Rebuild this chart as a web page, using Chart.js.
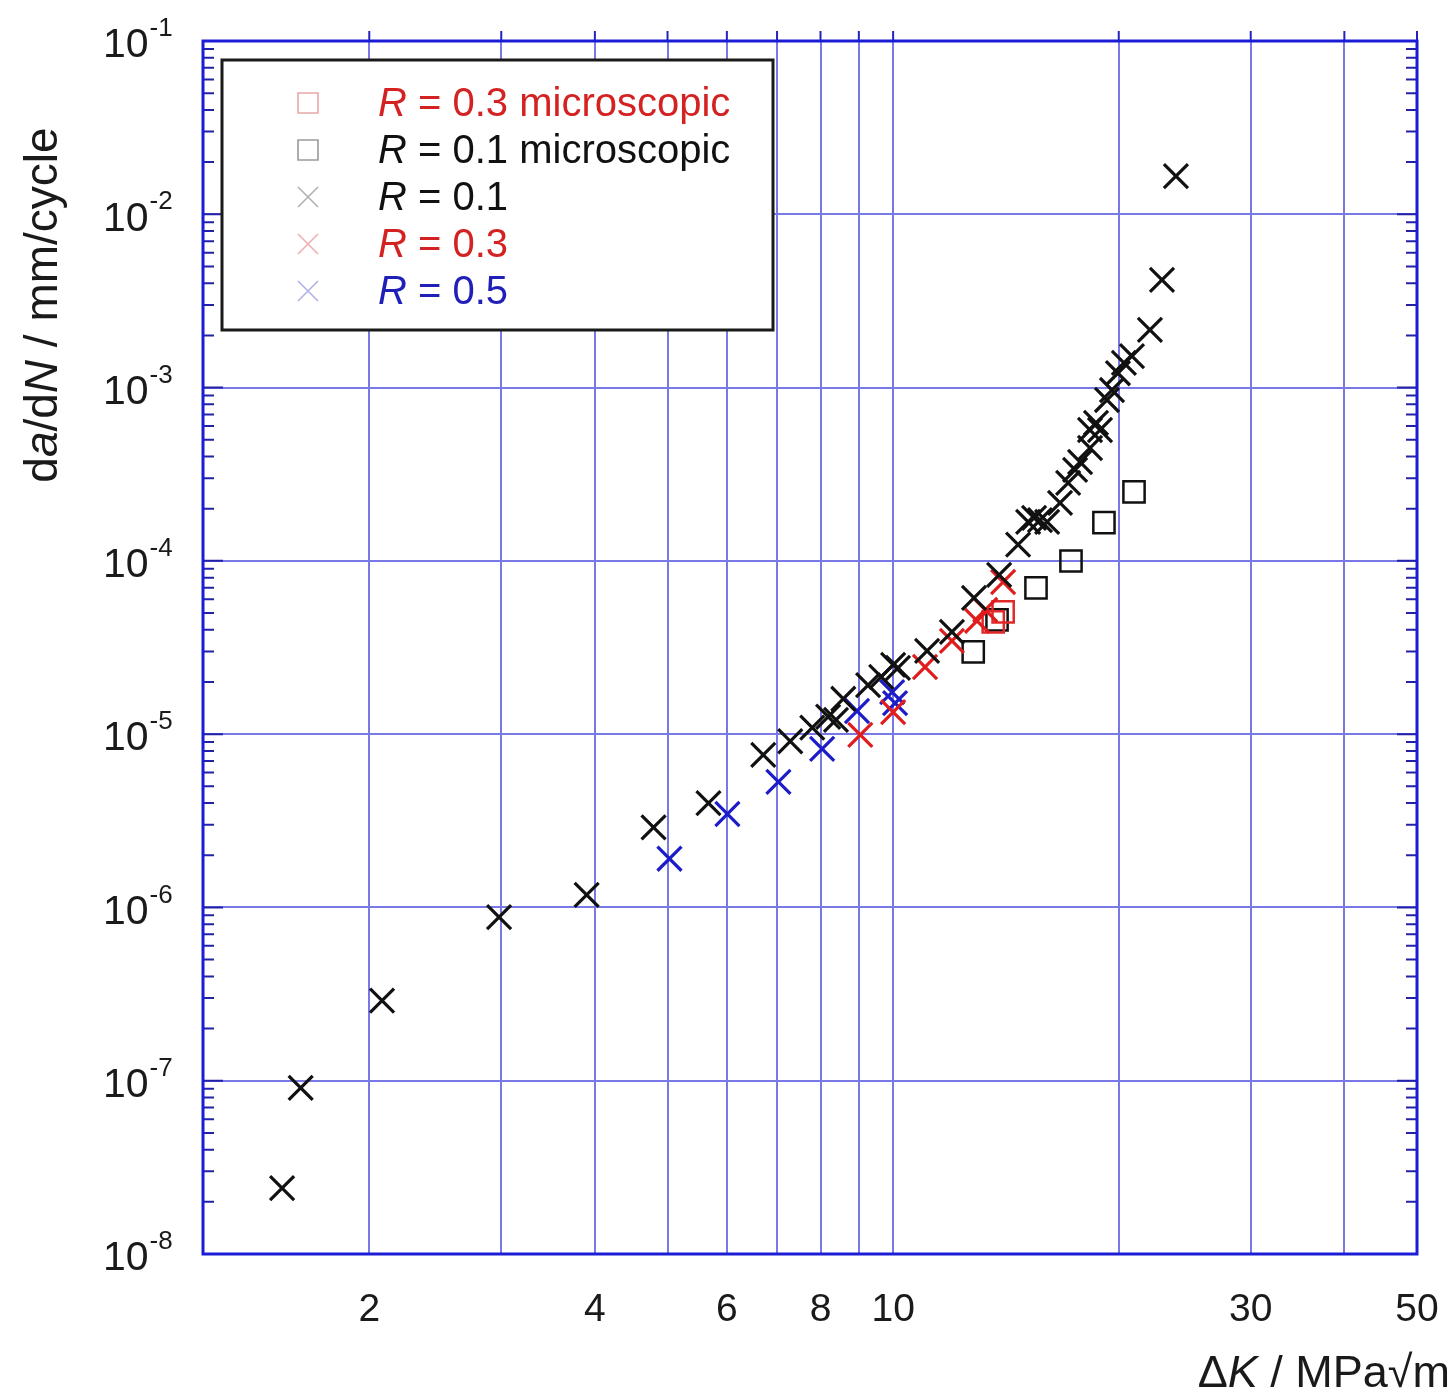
<!DOCTYPE html>
<html>
<head>
<meta charset="utf-8">
<script src="https://cdn.jsdelivr.net/npm/chart.js@4"></script>
<style>
    html, body { margin: 0; padding: 0; background: #fff; }
</style>
</head>
<body>
<canvas id="myChart" width="1455" height="1397"></canvas>
<script>
// Delta K (MPa sqrt m) and da/dN (mm/cycle)
const r01K = [1.53, 1.62, 2.08, 2.98, 3.90, 4.79, 5.67, 6.71, 7.29, 7.80, 8.19, 8.39, 8.58, 9.26, 9.64, 10.0, 10.15, 11.1, 11.98, 12.82, 13.85, 14.68, 15.14, 15.42, 15.7, 16.05, 16.7, 17.12, 17.49, 17.76, 18.31, 18.31, 18.88, 18.65, 19.29, 19.59, 19.95, 20.32, 20.83, 22.01, 22.84, 23.84];
const r01Rate = [2.4e-8, 9.1e-8, 2.9e-7, 8.8e-7, 1.18e-6, 2.9e-6, 4.0e-6, 7.6e-6, 9.1e-6, 1.09e-5, 1.26e-5, 1.21e-5, 1.6e-5, 1.92e-5, 2.14e-5, 2.51e-5, 2.41e-5, 3.02e-5, 3.89e-5, 6.11e-5, 8.29e-5, 1.24e-4, 1.68e-4, 1.77e-4, 1.72e-4, 1.68e-4, 2.16e-4, 2.82e-4, 3.35e-4, 3.72e-4, 4.48e-4, 5.69e-4, 5.69e-4, 6.25e-4, 8.48e-4, 9.68e-4, 1.21e-3, 1.39e-3, 1.52e-3, 2.15e-3, 4.18e-3, 1.66e-2];

const r03K = [9.04, 10.0, 11.03, 11.98, 12.94, 13.27, 14.02];
const r03Rate = [9.9e-6, 1.34e-5, 2.44e-5, 3.45e-5, 4.5e-5, 5.21e-5, 7.55e-5];

const r05K = [5.03, 6.01, 7.03, 8.04, 8.95, 9.97, 10.06];
const r05Rate = [1.91e-6, 3.46e-6, 5.3e-6, 8.22e-6, 1.36e-5, 1.75e-5, 1.51e-5];

const micro01K = [12.79, 13.76, 15.51, 17.27, 19.11, 20.96];
const micro01Rate = [2.98e-5, 4.56e-5, 6.98e-5, 9.98e-5, 1.66e-4, 2.5e-4];

const micro03K = [13.6, 14.02];
const micro03Rate = [4.44e-5, 5.07e-5];

// axis ticks
const xGrid = [2, 3, 4, 5, 6, 7, 8, 9, 10, 20, 30, 40, 50];
const xLabels = [2, 4, 6, 8, 10, 30, 50];
const yExponents = [-8, -7, -6, -5, -4, -3, -2, -1];

// legend entries, top to bottom
const legendText = ['R = 0.3 microscopic', 'R = 0.1 microscopic', 'R = 0.1', 'R = 0.3', 'R = 0.5'];

const FONT = '"Liberation Sans", Arial, sans-serif';
const pts = (xs, ys) => xs.map((x, i) => ({ x: x, y: ys[i] }));

const legendItems = [
    { style: 'rect', mark: '#e8a8a8', text: '#d42222' },
    { style: 'rect', mark: '#9a9a9a', text: '#111' },
    { style: 'cross', mark: '#b0b0b0', text: '#111' },
    { style: 'cross', mark: '#f0b0b0', text: '#d42222' },
    { style: 'cross', mark: '#b0b0ea', text: '#2020b8' }
];

function drawRich(ctx, parts, x, y, size) {
    // parts: [text, italic]
    let cx = x;
    parts.forEach(([t, it]) => {
        ctx.font = (it ? 'italic ' : '') + size + 'px ' + FONT;
        ctx.fillText(t, cx, y);
        cx += ctx.measureText(t).width;
    });
    return cx - x;
}
function richWidth(ctx, parts, size) {
    let w = 0;
    parts.forEach(([t, it]) => {
        ctx.font = (it ? 'italic ' : '') + size + 'px ' + FONT;
        w += ctx.measureText(t).width;
    });
    return w;
}

const decorations = {
    id: 'decorations',
    afterDraw(chart) {
        const ctx = chart.ctx;
        const a = chart.chartArea;
        const xs = chart.scales.x, ys = chart.scales.y;
        ctx.save();

        // minor / major ticks on the y axis, both sides
        ctx.strokeStyle = '#2222a8';
        ctx.lineWidth = 2;
        for (let e = -8; e <= -1; e++) {
            for (let m = 1; m <= 9; m++) {
                const v = m * Math.pow(10, e);
                if (v > 0.1 * 1.0001) continue;
                const y = ys.getPixelForValue(v);
                const len = m === 1 ? 20 : 11;
                ctx.beginPath();
                ctx.moveTo(a.left, y); ctx.lineTo(a.left + len, y);
                ctx.moveTo(a.right - len, y); ctx.lineTo(a.right, y);
                ctx.stroke();
            }
        }
        // little outward ticks on top edge
        ctx.strokeStyle = '#2222c0';
        xGrid.forEach(v => {
            const x = xs.getPixelForValue(v);
            ctx.beginPath(); ctx.moveTo(x, a.top - 10); ctx.lineTo(x, a.top); ctx.stroke();
        });

        // frame
        ctx.strokeStyle = '#1c1cd6';
        ctx.lineWidth = 3;
        ctx.strokeRect(a.left, a.top, a.right - a.left, a.bottom - a.top);

        // x tick labels
        ctx.fillStyle = '#1a1a1a';
        ctx.textAlign = 'center';
        ctx.textBaseline = 'middle';
        ctx.font = '39px ' + FONT;
        xLabels.forEach(v => {
            ctx.fillText(String(v), xs.getPixelForValue(v), 1310);
        });

        // y tick labels 10^n
        ctx.textAlign = 'left';
        yExponents.forEach(e => {
            const y = ys.getPixelForValue(Math.pow(10, e));
            ctx.font = '41px ' + FONT;
            ctx.fillText('10', 103, y + 5);
            const w = ctx.measureText('10').width;
            ctx.font = '26px ' + FONT;
            ctx.fillText(String(e), 103 + w + 1, y - 12);
        });

        // x title
        ctx.textBaseline = 'alphabetic';
        const xt = [['Δ', false], ['K', true], [' / MPa√m', false]];
        const xw = richWidth(ctx, xt, 45);
        drawRich(ctx, xt, 1450 - xw, 1387, 45);

        // y title (rotated)
        const yt = [['d', false], ['a', true], ['/d', false], ['N', true], [' / mm/cycle', false]];
        ctx.save();
        ctx.translate(57, 305);
        ctx.rotate(-Math.PI / 2);
        const yw = richWidth(ctx, yt, 46);
        drawRich(ctx, yt, -yw / 2, 0, 46);
        ctx.restore();

        // legend box
        ctx.fillStyle = '#fff';
        ctx.fillRect(222, 60, 551, 270);
        ctx.strokeStyle = '#1a1a1a';
        ctx.lineWidth = 3;
        ctx.strokeRect(222, 60, 551, 270);
        ctx.textBaseline = 'middle';
        legendItems.forEach((it, i) => {
            const y = 103 + i * 47;
            const mx = 308;
            ctx.strokeStyle = it.mark;
            ctx.lineWidth = 1.6;
            ctx.beginPath();
            if (it.style === 'rect') {
                ctx.rect(mx - 10, y - 10, 20, 20);
            } else {
                ctx.moveTo(mx - 10, y - 10); ctx.lineTo(mx + 10, y + 10);
                ctx.moveTo(mx + 10, y - 10); ctx.lineTo(mx - 10, y + 10);
            }
            ctx.stroke();
            ctx.fillStyle = it.text;
            const label = legendText[i];
            drawRich(ctx, [[label.slice(0, 1), true], [label.slice(1), false]], 378, y + 2, 40);
        });
        ctx.restore();
    }
};

const ctx = document.getElementById('myChart').getContext('2d');
const myChart = new Chart(ctx, {
    type: 'scatter',
    data: {
        datasets: [
            {
                label: legendText[2],
                data: pts(r01K, r01Rate),
                pointStyle: 'crossRot', pointRadius: 17, borderWidth: 3.2,
                borderColor: '#111', backgroundColor: '#111'
            },
            {
                label: legendText[3],
                data: pts(r03K, r03Rate),
                pointStyle: 'crossRot', pointRadius: 17, borderWidth: 3.2,
                borderColor: '#e01c1c', backgroundColor: '#e01c1c'
            },
            {
                label: legendText[4],
                data: pts(r05K, r05Rate),
                pointStyle: 'crossRot', pointRadius: 17, borderWidth: 3.2,
                borderColor: '#1c1cc8', backgroundColor: '#1c1cc8'
            },
            {
                label: legendText[0],
                data: pts(micro03K, micro03Rate),
                pointStyle: 'rect', pointRadius: 15, borderWidth: 2.5,
                borderColor: '#e02a2a', backgroundColor: 'rgba(0,0,0,0)'
            },
            {
                label: legendText[1],
                data: pts(micro01K, micro01Rate),
                pointStyle: 'rect', pointRadius: 15, borderWidth: 2.5,
                borderColor: '#111', backgroundColor: 'rgba(0,0,0,0)'
            }
        ]
    },
    options: {
        responsive: false,
        animation: false,
        layout: { padding: { left: 203, top: 41, right: 38, bottom: 143 } },
        plugins: { legend: { display: false }, tooltip: { enabled: false } },
        scales: {
            x: {
                type: 'logarithmic', min: 1.2, max: 50,
                afterBuildTicks: s => { s.ticks = xGrid.map(v => ({ value: v })); },
                ticks: { display: false },
                grid: { color: '#7878e6', lineWidth: 2, drawTicks: false },
                border: { display: false }
            },
            y: {
                type: 'logarithmic', min: 1e-8, max: 1e-1,
                afterBuildTicks: s => { s.ticks = yExponents.map(e => ({ value: Math.pow(10, e) })); },
                ticks: { display: false },
                grid: { color: '#7878e6', lineWidth: 2, drawTicks: false },
                border: { display: false }
            }
        }
    },
    plugins: [decorations]
});
</script>
</body>
</html>
